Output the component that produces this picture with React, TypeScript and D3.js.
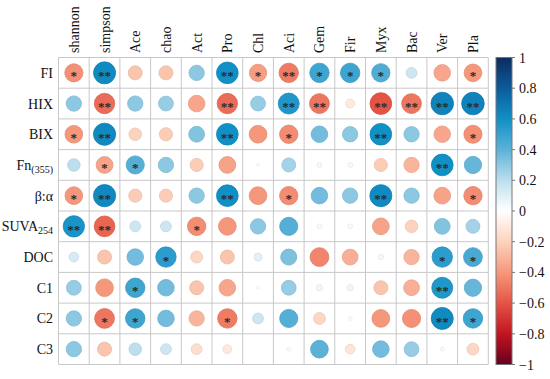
import * as d3 from "d3";

const columns = ["shannon", "simpson", "Ace", "chao", "Act", "Pro", "Chl", "Aci", "Gem", "Fir", "Myx", "Bac", "Ver", "Pla"];
const rowBase = ["FI", "HIX", "BIX", "Fn", "β:α", "SUVA", "DOC", "C1", "C2", "C3"];
const rowSub = ["", "", "", "(355)", "", "254", "", "", "", ""];

// correlation coefficients, one array per row (same order as columns)
const FI = [-0.42, 0.62, -0.25, -0.25, 0.3, 0.6, -0.38, -0.48, 0.48, 0.48, 0.43, 0.15, -0.35, -0.4];
const HIX = [0.3, -0.53, 0.3, 0.28, -0.35, -0.53, 0.28, 0.56, -0.5, -0.1, -0.6, -0.5, 0.65, 0.65];
const BIX = [-0.4, 0.63, -0.2, -0.22, 0.32, 0.6, -0.4, -0.43, 0.35, 0.3, 0.6, 0.3, -0.35, -0.42];
const Fn355 = [0.2, -0.36, 0.42, 0.3, -0.22, -0.36, 0.01, 0.25, 0.03, 0.03, -0.22, -0.3, 0.6, 0.38];
const BA = [-0.4, 0.63, -0.22, -0.22, 0.3, 0.6, -0.4, -0.43, 0.35, 0.3, 0.62, 0.3, -0.36, -0.43];
const SUVA254 = [0.58, -0.55, 0.15, 0.15, -0.43, -0.4, 0.3, 0.42, -0.03, -0.03, -0.36, -0.2, 0.32, 0.25];
const DOC = [0.12, -0.25, 0.35, 0.53, -0.18, -0.25, 0.08, 0.33, -0.45, -0.32, -0.04, -0.3, 0.53, 0.45];
const C1 = [0.28, -0.4, 0.48, 0.35, -0.25, -0.35, 0.01, 0.28, -0.05, 0.05, -0.25, -0.32, 0.56, 0.38];
const C2 = [0.3, -0.5, 0.48, 0.35, -0.3, -0.48, 0.15, 0.42, -0.18, 0.02, -0.4, -0.42, 0.62, 0.48];
const C3 = [0.3, -0.25, 0.2, 0.15, -0.15, -0.1, 0.0, 0.02, 0.4, -0.12, 0.35, 0.28, 0.02, -0.18];
const values = [FI, HIX, BIX, Fn355, BA, SUVA254, DOC, C1, C2, C3];

// significance marks
const sigFI = ["*", "**", "", "", "", "**", "*", "**", "*", "*", "*", "", "", "*"];
const sigHIX = ["", "**", "", "", "", "**", "", "**", "**", "", "**", "**", "**", "**"];
const sigBIX = ["*", "**", "", "", "", "**", "", "*", "", "", "**", "", "", "*"];
const sigFn = ["", "*", "*", "", "", "", "", "", "", "", "", "", "**", ""];
const sigBA = ["*", "**", "", "", "", "**", "", "*", "", "", "**", "", "", "*"];
const sigSUVA = ["**", "**", "", "", "*", "", "", "", "", "", "", "", "", ""];
const sigDOC = ["", "", "", "*", "", "", "", "", "", "", "", "", "*", "*"];
const sigC1 = ["", "", "*", "", "", "", "", "", "", "", "", "", "**", ""];
const sigC2 = ["", "*", "*", "", "", "*", "", "", "", "", "", "", "**", "*"];
const sigC3 = ["", "", "", "", "", "", "", "", "", "", "", "", "", ""];
const sigs = [sigFI, sigHIX, sigBIX, sigFn, sigBA, sigSUVA, sigDOC, sigC1, sigC2, sigC3];

const legendTicks = [1, 0.8, 0.6, 0.4, 0.2, 0, -0.2, -0.4, -0.6, -0.8, -1];

const W = 550;
const H = 379;
const gx0 = 58.5;
const gy0 = 57.5;
const cell = 30.7;

const color = d3
  .scaleLinear<string>()
  .domain([-1, -0.8, -0.6, -0.4, -0.2, 0, 0.2, 0.4, 0.6, 0.8, 1])
  .range(["#67001f", "#c1151f", "#e45445", "#f5977b", "#fcd3bd", "#ffffff", "#bcdeed", "#5cb1d7", "#1190c6", "#0b5b9c", "#0b2d5d"])
  .interpolate(d3.interpolateRgb);

const font = "Liberation Serif, DejaVu Serif, serif";

export default function App() {
  const x = d3.scaleBand().domain(columns).range([gx0, gx0 + cell * columns.length]);
  const y = d3.scaleBand().domain(rowBase).range([gy0, gy0 + cell * rowBase.length]);
  const rad = d3.scaleSqrt().domain([0, 1]).range([0, 14]);

  const barX = 496;
  const barW = 16;
  const cy = d3.scaleLinear().domain([1, -1]).range([gy0, gy0 + cell * rowBase.length]);
  const gradStops = d3.range(0, 21).map((i) => 1 - i * 0.1);

  return (
    <svg width={W} height={H} style={{ position: "absolute", left: 0, top: 0, background: "#fff", fontFamily: font }}>
      <defs>
        <linearGradient id="cbar" x1="0" y1="0" x2="0" y2="1">
          {gradStops.map((v, i) => (
            <stop key={i} offset={`${(i / 20) * 100}%`} stopColor={color(v)} />
          ))}
        </linearGradient>
      </defs>

      {/* grid */}
      <g stroke="#c8c8c8" strokeWidth={1}>
        {d3.range(columns.length + 1).map((i) => (
          <line key={"v" + i} x1={gx0 + i * cell} x2={gx0 + i * cell} y1={gy0} y2={gy0 + cell * rowBase.length} />
        ))}
        {d3.range(rowBase.length + 1).map((i) => (
          <line key={"h" + i} x1={gx0} x2={gx0 + cell * columns.length} y1={gy0 + i * cell} y2={gy0 + i * cell} />
        ))}
      </g>

      {/* circles */}
      {values.map((row, ri) =>
        row.map((v, ci) => {
          const cx = x(columns[ci])! + x.bandwidth() / 2;
          const cyy = y(rowBase[ri])! + y.bandwidth() / 2;
          const c = color(v);
          return (
            <g key={ri + "-" + ci}>
              <circle cx={cx} cy={cyy} r={rad(Math.abs(v))} fill={c} stroke={d3.color(c)!.darker(0.2).toString()} strokeWidth={0.8} />
              {sigs[ri][ci] && (
                <text x={cx} y={cyy + 7.5} textAnchor="middle" fontSize={13} fontWeight="bold" fill="#2a2a2a">
                  {sigs[ri][ci]}
                </text>
              )}
            </g>
          );
        })
      )}

      {/* row labels */}
      {rowBase.map((r, i) => (
        <text key={r} x={53} y={y(r)! + y.bandwidth() / 2 + 5} textAnchor="end" fontSize={14} fill="#111">
          {r}
          {rowSub[i] && (
            <tspan fontSize={10} dy={3}>
              {rowSub[i]}
            </tspan>
          )}
        </text>
      ))}

      {/* column labels */}
      {columns.map((c) => {
        const tx = x(c)! + x.bandwidth() / 2 + 5;
        const ty = 53;
        return (
          <text key={c} transform={`translate(${tx},${ty}) rotate(-90)`} fontSize={14} fill="#111">
            {c}
          </text>
        );
      })}

      {/* colour bar */}
      <rect x={barX} y={gy0} width={barW} height={cell * rowBase.length} fill="url(#cbar)" stroke="#777" strokeWidth={1} />
      {legendTicks.map((t) => (
        <g key={t}>
          <line x1={barX + barW} x2={barX + barW + 3} y1={cy(t)} y2={cy(t)} stroke="#777" />
          <text x={barX + barW + 7} y={cy(t) + 5} fontSize={14} fill="#111">
            {t < 0 ? "−" + Math.abs(t) : String(t)}
          </text>
        </g>
      ))}
    </svg>
  );
}
